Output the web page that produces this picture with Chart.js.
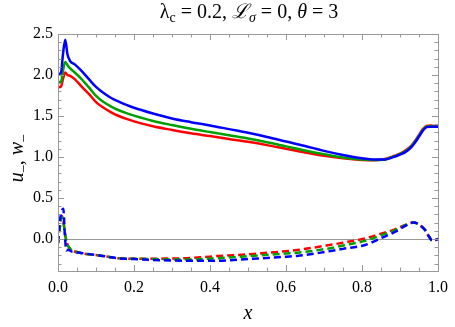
<!DOCTYPE html>
<html>
<head>
<meta charset="utf-8">
<script src="https://cdn.jsdelivr.net/npm/chart.js@4"></script>
<style>
  html, body { margin: 0; padding: 0; background: #fff; }
  #box { width: 455px; height: 327px; }
</style>
</head>
<body>
<div id="box"><canvas id="chart"></canvas></div>
<script>
var SERIF = "'Liberation Serif', 'DejaVu Serif', serif";

// x grid for the solid u_- curves
var xU = [0, 0.008, 0.013, 0.019, 0.025, 0.032, 0.044, 0.06, 0.083, 0.1, 0.12, 0.14, 0.16, 0.18, 0.2, 0.25, 0.3, 0.35, 0.4, 0.45, 0.5,
          0.55, 0.6, 0.65, 0.7, 0.75, 0.8, 0.83, 0.86, 0.88, 0.9, 0.914, 0.93, 0.94, 0.95, 0.96, 0.97, 0.98, 1.0];
var uRed   = [1.85, 1.86, 1.95, 2.03, 2.00, 1.99, 1.95, 1.87, 1.76, 1.67, 1.60, 1.545, 1.50, 1.465, 1.435, 1.375, 1.33, 1.29, 1.255, 1.22, 1.185,
              1.145, 1.10, 1.055, 1.015, 0.985, 0.965, 0.96, 0.975, 1.005, 1.04, 1.08, 1.14, 1.20, 1.27, 1.34, 1.38, 1.385, 1.37];
var uGreen = [1.91, 1.92, 2.05, 2.16, 2.12, 2.08, 2.03, 1.96, 1.84, 1.745, 1.67, 1.615, 1.57, 1.535, 1.505, 1.44, 1.39, 1.345, 1.305, 1.265, 1.225,
              1.18, 1.13, 1.08, 1.035, 0.995, 0.97, 0.965, 0.97, 1.0, 1.035, 1.07, 1.13, 1.19, 1.26, 1.33, 1.37, 1.375, 1.37];
var uBlue  = [2.01, 2.03, 2.25, 2.43, 2.25, 2.17, 2.13, 2.06, 1.94, 1.855, 1.78, 1.72, 1.675, 1.635, 1.60, 1.53, 1.47, 1.425, 1.385, 1.34, 1.295,
              1.245, 1.19, 1.135, 1.075, 1.025, 0.985, 0.97, 0.97, 0.995, 1.03, 1.06, 1.12, 1.18, 1.25, 1.32, 1.365, 1.37, 1.37];

// x grid for the dashed w_- curves
var xW = [0, 0.005, 0.01, 0.014, 0.018, 0.022, 0.026, 0.035, 0.06, 0.109, 0.16, 0.2, 0.25, 0.3, 0.334, 0.38, 0.42, 0.5,
          0.55, 0.6, 0.629, 0.706, 0.75, 0.81, 0.85, 0.888, 0.91, 0.935, 0.945, 0.955, 0.966, 0.975, 0.985, 0.992, 1.0];
var wRed   = [-0.05, 0.15, 0.28, 0.22, 0.08, -0.02, -0.08, -0.13, -0.17, -0.20, -0.235, -0.24, -0.24, -0.237, -0.235, -0.222, -0.207, -0.187,
              -0.168, -0.148, -0.134, -0.08, -0.045, 0.01, 0.065, 0.12, 0.165, 0.20, 0.19, 0.16, 0.11, 0.04, -0.02, -0.015, 0.0];
var wGreen = [-0.05, 0.15, 0.27, 0.22, 0.08, -0.02, -0.08, -0.13, -0.17, -0.20, -0.235, -0.24, -0.245, -0.25, -0.25, -0.243, -0.235, -0.21,
              -0.193, -0.177, -0.167, -0.12, -0.08, -0.02, 0.045, 0.11, 0.16, 0.20, 0.19, 0.16, 0.11, 0.04, -0.02, -0.015, 0.0];
var wBlue  = [-0.05, 0.22, 0.34, 0.37, 0.05, -0.14, -0.13, -0.15, -0.17, -0.20, -0.235, -0.245, -0.255, -0.262, -0.265, -0.266, -0.265, -0.245,
              -0.23, -0.215, -0.207, -0.155, -0.12, -0.07, 0.01, 0.09, 0.15, 0.20, 0.19, 0.16, 0.11, 0.04, -0.02, -0.015, 0.0];

var xTicks = [0, 0.2, 0.4, 0.6, 0.8, 1.0];
var yTicks = [0, 0.5, 1.0, 1.5, 2.0, 2.5];

var RED = '#ff0000', GREEN = '#00a000', BLUE = '#0000ff';

function pts(xs, ys) {
    return xs.map(function(x, i) { return {x: x, y: ys[i]}; });
}

function line(data, color, dashed, order) {
    return {
        data: data,
        borderColor: color,
        borderWidth: 2.5,
        borderDash: dashed ? [7, 4] : [],
        pointRadius: 0,
        cubicInterpolationMode: 'monotone',
        fill: false,
        order: order
    };
}

// frame with inward ticks, zero line, title and y label
var framePlugin = {
    id: 'frame',
    beforeDatasetsDraw: function(chart) {
        var ctx = chart.ctx, a = chart.chartArea;
        var ys = chart.scales.y;
        ctx.save();
        ctx.strokeStyle = '#999';
        ctx.lineWidth = 1;
        var y0 = Math.round(ys.getPixelForValue(0)) + 0.5;
        ctx.beginPath();
        ctx.moveTo(a.left, y0);
        ctx.lineTo(a.right, y0);
        ctx.stroke();
        ctx.restore();
    },
    afterDraw: function(chart) {
        var ctx = chart.ctx, a = chart.chartArea;
        var xs = chart.scales.x, ys = chart.scales.y;
        ctx.save();
        ctx.strokeStyle = '#999';
        ctx.lineWidth = 1;
        ctx.strokeRect(Math.round(a.left) + 0.5, Math.round(a.top) + 0.5,
                       Math.round(a.right - a.left), Math.round(a.bottom - a.top));
        ctx.beginPath();
        var i, v, p, len;
        for (i = 0; i <= 20; i++) {
            v = i * 0.05;
            p = Math.round(xs.getPixelForValue(v)) + 0.5;
            len = (i % 4 === 0) ? 6 : 3.5;
            ctx.moveTo(p, a.bottom); ctx.lineTo(p, a.bottom - len);
            ctx.moveTo(p, a.top); ctx.lineTo(p, a.top + len);
        }
        for (i = -3; i <= 25; i++) {
            v = i * 0.1;
            p = Math.round(ys.getPixelForValue(v)) + 0.5;
            if (p < a.top || p > a.bottom) continue;
            len = (i % 5 === 0) ? 6 : 3.5;
            ctx.moveTo(a.left, p); ctx.lineTo(a.left + len, p);
            ctx.moveTo(a.right, p); ctx.lineTo(a.right - len, p);
        }
        ctx.stroke();

        // title with subscripts
        var parts = [
            {t: 'λ', f: '20px ' + SERIF, dy: 0},
            {t: 'c', f: '14px ' + SERIF, dy: 4},
            {t: ' = 0.2, ', f: '20px ' + SERIF, dy: 0},
            {t: 'ℒ', f: 'italic 20px ' + SERIF, dy: 0},
            {t: 'σ', f: 'italic 14px ' + SERIF, dy: 4},
            {t: ' = 0, ', f: '20px ' + SERIF, dy: 0},
            {t: 'θ', f: 'italic 20px ' + SERIF, dy: 0},
            {t: ' = 3', f: '20px ' + SERIF, dy: 0}
        ];
        drawParts(ctx, parts, 249, 18);

        // y label, rotated
        ctx.translate(17, (a.top + a.bottom) / 2 + 6);
        ctx.rotate(-Math.PI / 2);
        var yl = [
            {t: 'u', f: 'italic 20px ' + SERIF, dy: 0},
            {t: '\u2013', f: '14px ' + SERIF, dy: 4},
            {t: ', ', f: '20px ' + SERIF, dy: 0},
            {t: 'w', f: 'italic 20px ' + SERIF, dy: 0},
            {t: '\u2013', f: '14px ' + SERIF, dy: 4}
        ];
        drawParts(ctx, yl, 0, 6);
        ctx.restore();
    }
};

function drawParts(ctx, parts, cx, baseline) {
    var w = 0;
    parts.forEach(function(p) { ctx.font = p.f; w += ctx.measureText(p.t).width; });
    var x = cx - w / 2;
    ctx.fillStyle = '#000';
    ctx.textBaseline = 'alphabetic';
    ctx.textAlign = 'left';
    parts.forEach(function(p) {
        ctx.font = p.f;
        ctx.fillText(p.t, x, baseline + p.dy);
        x += ctx.measureText(p.t).width;
    });
}

var ctx = document.getElementById('chart').getContext('2d');
var myChart = new Chart(ctx, {
    type: 'line',
    data: {
        datasets: [
            line(pts(xU, uBlue), BLUE, false, 0),
            line(pts(xU, uGreen), GREEN, false, 1),
            line(pts(xU, uRed), RED, false, 2),
            line(pts(xW, wBlue), BLUE, true, 0),
            line(pts(xW, wGreen), GREEN, true, 1),
            line(pts(xW, wRed), RED, true, 2)
        ]
    },
    options: {
        responsive: true,
        maintainAspectRatio: false,
        animation: false,
        layout: { padding: { top: 34, right: 12, left: 0, bottom: 0 } },
        plugins: { legend: { display: false }, tooltip: { enabled: false }, title: { display: false } },
        scales: {
            x: {
                type: 'linear',
                min: 0, max: 1,
                grid: { display: false, drawTicks: false },
                border: { display: false },
                afterBuildTicks: function(s) { s.ticks = xTicks.map(function(v) { return {value: v}; }); },
                afterFit: function(s) { s.height = 56; },
                ticks: {
                    padding: 7,
                    color: '#000',
                    maxRotation: 0,
                    font: { family: SERIF, size: 16 },
                    callback: function(v) { return v.toFixed(1); }
                },
                title: {
                    display: true, text: 'x', color: '#000',
                    font: { family: SERIF, size: 20, style: 'italic', lineHeight: 1 },
                    padding: { top: 0, bottom: 3 }
                }
            },
            y: {
                type: 'linear',
                min: -0.39, max: 2.5,
                grid: { display: false, drawTicks: false },
                border: { display: false },
                afterBuildTicks: function(s) { s.ticks = yTicks.map(function(v) { return {value: v}; }); },
                afterFit: function(s) { s.width = 58; },
                ticks: {
                    padding: 5,
                    color: '#000',
                    font: { family: SERIF, size: 16 },
                    callback: function(v) { return v.toFixed(1); }
                }
            }
        }
    },
    plugins: [framePlugin]
});
</script>
</body>
</html>
